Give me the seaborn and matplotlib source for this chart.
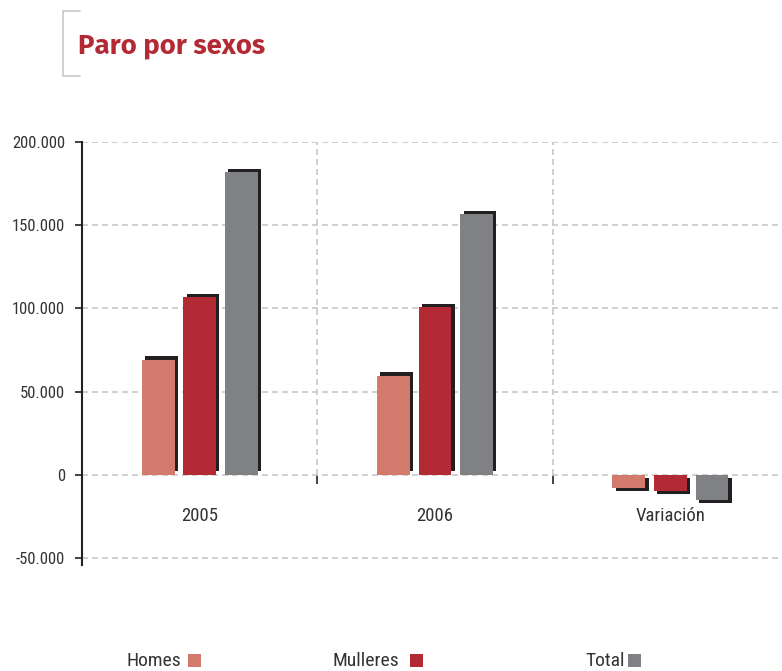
import numpy as np
import pandas as pd
import matplotlib
matplotlib.use('Agg')
import matplotlib.pyplot as plt
import matplotlib.patheffects as pe
from matplotlib.lines import Line2D
from matplotlib.patches import Rectangle
from matplotlib.ticker import FuncFormatter, FixedLocator
import seaborn as sns

# datos
categorias = ['2005', '2006', 'Variación']
homes = [69200, 59600, -8000]
mulleres = [106700, 100700, -9600]
total = [182000, 156500, -15200]
series = ['Homes', 'Mulleres', 'Total']
cores = ['#D27A6D', '#B42A34', '#808184']
yticks = [-50000, 0, 50000, 100000, 150000, 200000]

df = pd.DataFrame({
    'categoria': categorias * 3,
    'serie': np.repeat(series, len(categorias)),
    'valor': homes + mulleres + total,
})

sns.set_style('white')
plt.rcParams['font.family'] = ['Roboto Condensed', 'DejaVu Sans']

W, H = 782, 671
fig = plt.figure(figsize=(W / 100, H / 100), dpi=100)
ax = fig.add_axes([82 / W, 1 - 565 / H, 1 - 82 / W, 423 / H])

sns.barplot(data=df, x='categoria', y='valor', hue='serie', palette=cores,
            width=0.53, gap=0.21, saturation=1, errorbar=None,
            linewidth=0, legend=False, ax=ax)

# sombra escura detrás de cada barra
for bar in ax.patches:
    dy = 2.4 if bar.get_height() >= 0 else -2.4
    bar.set_path_effects([pe.SimplePatchShadow(offset=(2.4, dy), shadow_rgbFace='#231F20', alpha=1),
                          pe.Normal()])

ax.set_xlim(-0.5, 2.474)
ax.set_ylim(-54200, 200000)
ax.set_xlabel('')
ax.set_ylabel('')

# grella
ax.set_axisbelow(True)
grid_kw = dict(color='#c8c8c8', linestyle=(0, (3.6, 2.4)), linewidth=1.2)
ax.yaxis.grid(True, **grid_kw)
ax.xaxis.grid(False)
ax.vlines([0.5, 1.5], 0, 200000, zorder=0, **grid_kw)

# eixos
for s in ['top', 'right']:
    ax.spines[s].set_visible(False)
ax.spines['left'].set_color('#222222')
ax.spines['left'].set_linewidth(1.5)
ax.spines['bottom'].set_position(('data', 0))
ax.spines['bottom'].set_visible(False)

ax.yaxis.set_major_locator(FixedLocator(yticks))
ax.yaxis.set_major_formatter(FuncFormatter(lambda v, p: f'{v:,.0f}'.replace(',', '.')))
ax.tick_params(axis='y', which='major', left=True, length=5, width=1.3, color='#333333',
               pad=7, labelsize=12, labelcolor='#333333')

ax.xaxis.set_minor_locator(FixedLocator([0.5, 1.5]))
ax.tick_params(axis='x', which='major', bottom=True, length=0, pad=23,
               labelsize=13.5, labelcolor='#333333')
ax.tick_params(axis='x', which='minor', bottom=True, length=6.5, width=1.3,
               color='#333333', direction='out')

# título e corchete
fig.text(78 / W, 1 - 53 / H, 'Paro por sexos', fontsize=19.8, fontweight='bold',
         color='#B42A34', family=['Fira Sans', 'DejaVu Sans'], va='baseline')
fig.add_artist(Line2D(np.array([80, 63, 63, 80]) / W, 1 - np.array([11, 11, 76, 76]) / H,
                      color='#c8c8c8', linewidth=1.2, transform=fig.transFigure))

# lenda
for nome, cor, xt, xs in zip(series, cores, [127, 333, 585], [188, 410, 628]):
    fig.text(xt / W, 1 - 666 / H, nome, fontsize=14, color='#333333', va='baseline')
    fig.add_artist(Rectangle((xs / W, 1 - 667 / H), 13 / W, 13 / H,
                             transform=fig.transFigure, facecolor=cor, edgecolor='none'))

fig.savefig('out.png', dpi=100)
